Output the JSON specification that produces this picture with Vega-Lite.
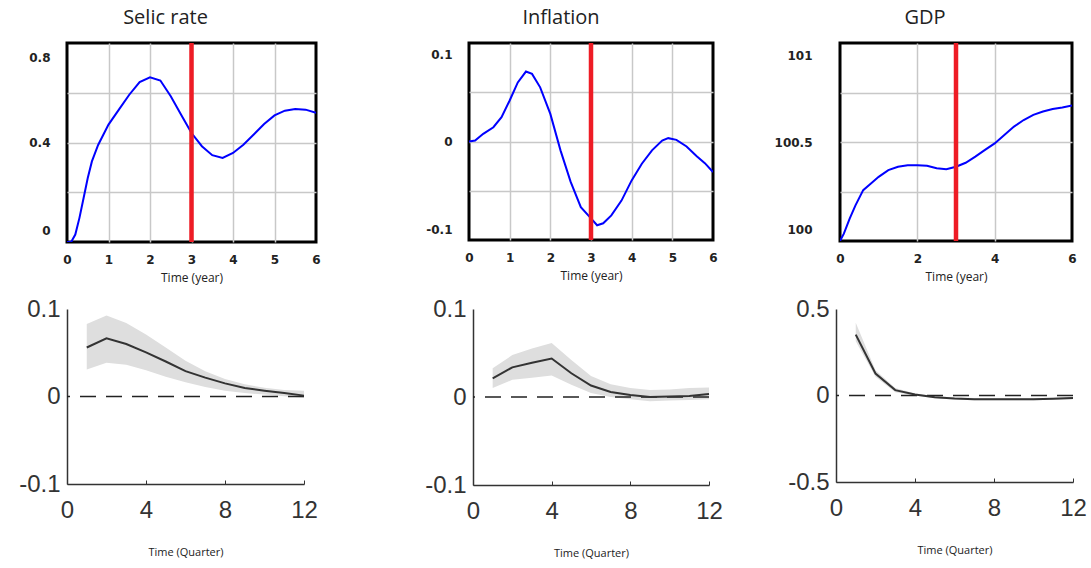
{
  "$schema": "https://vega.github.io/schema/vega-lite/v6.json",
  "padding": {"left": 18, "top": 6, "right": 5, "bottom": 5},
  "background": "white",
  "datasets": {
    "selic": [
      {"t": 0, "v": 0}, {"t": 0.1, "v": 0}, {"t": 0.2, "v": 0.03}, {"t": 0.3, "v": 0.097}, {"t": 0.4, "v": 0.177},
      {"t": 0.5, "v": 0.257}, {"t": 0.6, "v": 0.324}, {"t": 0.75, "v": 0.39}, {"t": 1.0, "v": 0.472}, {"t": 1.25, "v": 0.532},
      {"t": 1.5, "v": 0.592}, {"t": 1.75, "v": 0.643}, {"t": 2.0, "v": 0.662}, {"t": 2.25, "v": 0.649}, {"t": 2.5, "v": 0.586},
      {"t": 2.75, "v": 0.512}, {"t": 3.0, "v": 0.438}, {"t": 3.25, "v": 0.385}, {"t": 3.5, "v": 0.349}, {"t": 3.75, "v": 0.338},
      {"t": 4.0, "v": 0.358}, {"t": 4.25, "v": 0.391}, {"t": 4.5, "v": 0.432}, {"t": 4.75, "v": 0.474}, {"t": 5.0, "v": 0.509},
      {"t": 5.25, "v": 0.528}, {"t": 5.5, "v": 0.535}, {"t": 5.75, "v": 0.532}, {"t": 6.0, "v": 0.519}
    ],
    "inflation": [
      {"t": 0, "v": 0}, {"t": 0.15, "v": 0.001}, {"t": 0.35, "v": 0.0078}, {"t": 0.6, "v": 0.0145}, {"t": 0.8, "v": 0.0247},
      {"t": 1.0, "v": 0.0416}, {"t": 1.2, "v": 0.06}, {"t": 1.4, "v": 0.071}, {"t": 1.55, "v": 0.0686}, {"t": 1.75, "v": 0.055},
      {"t": 2.0, "v": 0.028}, {"t": 2.25, "v": -0.009}, {"t": 2.5, "v": -0.041}, {"t": 2.75, "v": -0.0666}, {"t": 3.0, "v": -0.078},
      {"t": 3.15, "v": -0.085}, {"t": 3.3, "v": -0.083}, {"t": 3.5, "v": -0.075}, {"t": 3.75, "v": -0.06}, {"t": 4.0, "v": -0.0395},
      {"t": 4.25, "v": -0.0226}, {"t": 4.5, "v": -0.009}, {"t": 4.75, "v": 0.001}, {"t": 4.9, "v": 0.0034}, {"t": 5.1, "v": 0.0017},
      {"t": 5.35, "v": -0.005}, {"t": 5.6, "v": -0.015}, {"t": 5.8, "v": -0.022}, {"t": 6.0, "v": -0.031}
    ],
    "gdp": [
      {"t": 0, "v": 100.0}, {"t": 0.1, "v": 100.037}, {"t": 0.25, "v": 100.113}, {"t": 0.4, "v": 100.18}, {"t": 0.6, "v": 100.257},
      {"t": 0.8, "v": 100.29}, {"t": 1.0, "v": 100.324}, {"t": 1.25, "v": 100.358}, {"t": 1.5, "v": 100.375}, {"t": 1.75, "v": 100.383},
      {"t": 2.0, "v": 100.383}, {"t": 2.25, "v": 100.38}, {"t": 2.5, "v": 100.367}, {"t": 2.75, "v": 100.363}, {"t": 3.0, "v": 100.375},
      {"t": 3.25, "v": 100.395}, {"t": 3.5, "v": 100.426}, {"t": 3.75, "v": 100.46}, {"t": 4.0, "v": 100.493}, {"t": 4.25, "v": 100.535},
      {"t": 4.5, "v": 100.578}, {"t": 4.75, "v": 100.611}, {"t": 5.0, "v": 100.637}, {"t": 5.25, "v": 100.654}, {"t": 5.5, "v": 100.667},
      {"t": 5.75, "v": 100.674}, {"t": 6.0, "v": 100.684}
    ],
    "shock": [{"t": 3}],
    "zero": [{"y": 0}],
    "irf_selic": [
      {"q": 1, "mean": 0.056, "lo": 0.031, "hi": 0.083}, {"q": 2, "mean": 0.0665, "lo": 0.0387, "hi": 0.0926},
      {"q": 3, "mean": 0.06, "lo": 0.0364, "hi": 0.084}, {"q": 4, "mean": 0.0505, "lo": 0.03, "hi": 0.071},
      {"q": 5, "mean": 0.04, "lo": 0.0227, "hi": 0.056}, {"q": 6, "mean": 0.029, "lo": 0.0164, "hi": 0.041},
      {"q": 7, "mean": 0.0216, "lo": 0.0108, "hi": 0.029}, {"q": 8, "mean": 0.015, "lo": 0.0067, "hi": 0.02},
      {"q": 9, "mean": 0.0097, "lo": 0.004, "hi": 0.014}, {"q": 10, "mean": 0.0067, "lo": 0.0022, "hi": 0.01},
      {"q": 11, "mean": 0.004, "lo": 0.0004, "hi": 0.0074}, {"q": 12, "mean": 0.001, "lo": -0.0015, "hi": 0.0067}
    ],
    "irf_inflation": [
      {"q": 1, "mean": 0.0213, "lo": 0.0101, "hi": 0.0326}, {"q": 2, "mean": 0.0337, "lo": 0.0195, "hi": 0.0476},
      {"q": 3, "mean": 0.039, "lo": 0.022, "hi": 0.055}, {"q": 4, "mean": 0.0438, "lo": 0.0243, "hi": 0.0614},
      {"q": 5, "mean": 0.027, "lo": 0.0139, "hi": 0.042}, {"q": 6, "mean": 0.013, "lo": 0.0045, "hi": 0.024},
      {"q": 7, "mean": 0.0056, "lo": 0.0, "hi": 0.0146}, {"q": 8, "mean": 0.0022, "lo": -0.0026, "hi": 0.0101},
      {"q": 9, "mean": 0.0, "lo": -0.0049, "hi": 0.0079}, {"q": 10, "mean": 0.0007, "lo": -0.0041, "hi": 0.0086},
      {"q": 11, "mean": 0.0011, "lo": -0.0034, "hi": 0.0101}, {"q": 12, "mean": 0.0034, "lo": -0.0026, "hi": 0.0109}
    ],
    "irf_gdp": [
      {"q": 1, "mean": 0.352, "lo": 0.313, "hi": 0.42}, {"q": 2, "mean": 0.127, "lo": 0.108, "hi": 0.146},
      {"q": 3, "mean": 0.031, "lo": 0.019, "hi": 0.044}, {"q": 4, "mean": 0.006, "lo": 0.0, "hi": 0.012},
      {"q": 5, "mean": -0.0096, "lo": -0.016, "hi": -0.003}, {"q": 6, "mean": -0.017, "lo": -0.023, "hi": -0.011},
      {"q": 7, "mean": -0.021, "lo": -0.027, "hi": -0.015}, {"q": 8, "mean": -0.021, "lo": -0.027, "hi": -0.015},
      {"q": 9, "mean": -0.021, "lo": -0.027, "hi": -0.015}, {"q": 10, "mean": -0.021, "lo": -0.027, "hi": -0.015},
      {"q": 11, "mean": -0.019, "lo": -0.025, "hi": -0.013}, {"q": 12, "mean": -0.015, "lo": -0.021, "hi": -0.009}
    ]
  },
  "config": {
    "view": {"stroke": null},
    "title": {"font": "Open Sans", "fontSize": 20, "fontWeight": "normal", "color": "#222222", "offset": 13, "frame": "group"},
    "axis": {"labelOverlap": false, "labelFlush": false}
  },
  "vconcat": [
    {
      "spacing": 53,
      "hconcat": [
        {
          "spacing": 102,
          "hconcat": [
            {
              "width": 249, "height": 199,
              "title": {"text": "Selic rate", "dx": -26},
              "view": {"stroke": "black", "strokeWidth": 3},
              "layer": [
                {
                  "data": {"name": "selic"},
                  "mark": {"type": "line", "color": "#0000ff", "strokeWidth": 2, "clip": true},
                  "encoding": {
                    "x": {"field": "t", "type": "quantitative", "scale": {"domain": [0, 6], "nice": false},
                      "axis": {"values": [0, 1, 2, 3, 4, 5, 6], "grid": true, "gridColor": "#c8c8c8", "gridWidth": 1.5,
                        "gridOpacity": {"condition": {"test": "datum.value < 0.01 || datum.value > 5.99", "value": 0}, "value": 1},
                        "domain": false, "ticks": false, "labelPadding": 12, "labelFont": "DejaVu Sans", "labelFontSize": 12,
                        "labelFontWeight": "bold", "labelColor": "#222222", "labelExpr": "toString(datum.value)", "labelOverlap": false,
                        "title": "Time (year)", "titleFont": "Open Sans", "titleFontSize": 12, "titleFontWeight": "normal",
                        "titleColor": "#222222", "titlePadding": 7}},
                    "y": {"field": "v", "type": "quantitative", "scale": {"domain": [0, 0.8], "nice": false, "zero": false},
                      "axis": {"values": [0, 0.2, 0.4, 0.6, 0.8], "grid": true, "gridColor": "#c8c8c8", "gridWidth": 1.5,
                        "gridOpacity": {"condition": {"test": "datum.value < 0.01 || datum.value > 0.79", "value": 0}, "value": 1},
                        "domain": false, "ticks": false, "labelPadding": 17, "labelFont": "DejaVu Sans", "labelFontSize": 12,
                        "labelFontWeight": "bold", "labelColor": "#222222", "labelOverlap": false,
                        "labelExpr": "datum.value == 0.2 || datum.value == 0.6 ? '' : toString(datum.value)",
                        "labelOffset": {"condition": [{"test": "datum.value > 0.79", "value": 14}, {"test": "datum.value < 0.01", "value": -12}], "value": 0},
                        "title": null}}
                  }
                },
                {
                  "data": {"name": "shock"},
                  "mark": {"type": "rule", "color": "#ee1c25", "strokeWidth": 4.5},
                  "encoding": {"x": {"field": "t", "type": "quantitative"}}
                }
              ]
            },
            {
              "width": 244, "height": 197,
              "title": {"text": "Inflation", "dx": -30},
              "view": {"stroke": "black", "strokeWidth": 3},
              "layer": [
                {
                  "data": {"name": "inflation"},
                  "mark": {"type": "line", "color": "#0000ff", "strokeWidth": 2, "clip": true},
                  "encoding": {
                    "x": {"field": "t", "type": "quantitative", "scale": {"domain": [0, 6], "nice": false},
                      "axis": {"values": [0, 1, 2, 3, 4, 5, 6], "grid": true, "gridColor": "#c8c8c8", "gridWidth": 1.5,
                        "gridOpacity": {"condition": {"test": "datum.value < 0.01 || datum.value > 5.99", "value": 0}, "value": 1},
                        "domain": false, "ticks": false, "labelPadding": 12, "labelFont": "DejaVu Sans", "labelFontSize": 12,
                        "labelFontWeight": "bold", "labelColor": "#222222", "labelExpr": "toString(datum.value)", "labelOverlap": false,
                        "title": "Time (year)", "titleFont": "Open Sans", "titleFontSize": 12, "titleFontWeight": "normal",
                        "titleColor": "#222222", "titlePadding": 7}},
                    "y": {"field": "v", "type": "quantitative", "scale": {"domain": [-0.1, 0.1], "nice": false, "zero": false},
                      "axis": {"values": [-0.1, -0.05, 0, 0.05, 0.1], "grid": true, "gridColor": "#c8c8c8", "gridWidth": 1.5,
                        "gridOpacity": {"condition": {"test": "datum.value < -0.099 || datum.value > 0.099", "value": 0}, "value": 1},
                        "domain": false, "ticks": false, "labelPadding": 17, "labelFont": "DejaVu Sans", "labelFontSize": 12,
                        "labelFontWeight": "bold", "labelColor": "#222222", "labelOverlap": false,
                        "labelExpr": "datum.value == 0.05 || datum.value == -0.05 ? '' : toString(datum.value)",
                        "labelOffset": {"condition": [{"test": "datum.value > 0.099", "value": 11}, {"test": "datum.value < -0.099", "value": -11}], "value": 0},
                        "title": null}}
                  }
                },
                {
                  "data": {"name": "shock"},
                  "mark": {"type": "rule", "color": "#ee1c25", "strokeWidth": 4.5},
                  "encoding": {"x": {"field": "t", "type": "quantitative"}}
                }
              ]
            }
          ]
        },
        {
          "width": 232, "height": 198,
          "title": {"text": "GDP", "dx": -31},
          "view": {"stroke": "black", "strokeWidth": 3},
          "layer": [
            {
              "data": {"name": "gdp"},
              "mark": {"type": "line", "color": "#0000ff", "strokeWidth": 2, "clip": true},
              "encoding": {
                "x": {"field": "t", "type": "quantitative", "scale": {"domain": [0, 6], "nice": false},
                  "axis": {"values": [0, 1, 2, 3, 4, 5, 6], "grid": true, "gridColor": "#c8c8c8", "gridWidth": 1.5,
                    "gridOpacity": {"condition": {"test": "datum.value < 0.01 || datum.value > 5.99", "value": 0}, "value": 1},
                    "domain": false, "ticks": false, "labelPadding": 12, "labelFont": "DejaVu Sans", "labelFontSize": 12,
                    "labelFontWeight": "bold", "labelColor": "#222222", "labelExpr": "toString(datum.value)", "labelOverlap": false,
                    "title": "Time (year)", "titleFont": "Open Sans", "titleFontSize": 12, "titleFontWeight": "normal",
                    "titleColor": "#222222", "titlePadding": 7}},
                "y": {"field": "v", "type": "quantitative", "scale": {"domain": [100, 101], "nice": false, "zero": false},
                  "axis": {"values": [100, 100.25, 100.5, 100.75, 101], "grid": true, "gridColor": "#c8c8c8", "gridWidth": 1.5,
                    "gridOpacity": {"condition": {"test": "datum.value < 100.01 || datum.value > 100.99", "value": 0}, "value": 1},
                    "domain": false, "ticks": false, "labelPadding": 28, "labelFont": "DejaVu Sans", "labelFontSize": 12,
                    "labelFontWeight": "bold", "labelColor": "#222222", "labelOverlap": false,
                    "labelExpr": "datum.value == 100.25 || datum.value == 100.75 ? '' : toString(datum.value)",
                    "labelOffset": {"condition": [{"test": "datum.value > 100.99", "value": 12}, {"test": "datum.value < 100.01", "value": -12}], "value": 0},
                    "title": null}}
              }
            },
            {
              "data": {"name": "shock"},
              "mark": {"type": "rule", "color": "#ee1c25", "strokeWidth": 4.5},
              "encoding": {"x": {"field": "t", "type": "quantitative"}}
            }
          ]
        }
      ]
    },
    {
      "spacing": 64,
      "hconcat": [
        {
          "spacing": 106,
          "hconcat": [
            {
              "width": 237, "height": 175,
              "data": {"name": "irf_selic"},
              "layer": [
                {
                  "mark": {"type": "area", "color": "#dedede", "opacity": 1},
                  "encoding": {
                    "x": {"field": "q", "type": "quantitative", "scale": {"domain": [0, 12], "nice": false},
                      "axis": {"values": [0, 4, 8, 12], "grid": false, "domain": true, "domainColor": "#333333", "domainWidth": 1.5,
                        "ticks": true, "tickColor": "#333333", "tickSize": -4, "labelPadding": 18, "labelFont": "Liberation Sans",
                        "labelFontSize": 24, "labelColor": "#333333", "title": "Time (Quarter)", "titleFont": "Open Sans",
                        "titleFontSize": 11, "titleFontWeight": "normal", "titleColor": "#222222", "titlePadding": 24}},
                    "y": {"field": "lo", "type": "quantitative", "scale": {"domain": [-0.1, 0.1], "nice": false, "zero": false},
                      "axis": {"values": [-0.1, 0, 0.1], "grid": false, "domain": true, "domainColor": "#333333", "domainWidth": 1.5,
                        "ticks": false, "labelPadding": 7, "labelFont": "Liberation Sans", "labelFontSize": 24, "labelColor": "#333333",
                        "labelExpr": "toString(datum.value)", "title": null}},
                    "y2": {"field": "hi"}
                  }
                },
                {
                  "data": {"name": "zero"},
                  "mark": {"type": "rule", "color": "#222222", "strokeWidth": 1.4, "strokeDash": [16, 10]},
                  "encoding": {"y": {"field": "y", "type": "quantitative"}}
                },
                {
                  "mark": {"type": "line", "color": "#333333", "strokeWidth": 2},
                  "encoding": {"x": {"field": "q", "type": "quantitative"}, "y": {"field": "mean", "type": "quantitative"}}
                }
              ]
            },
            {
              "width": 236, "height": 176,
              "data": {"name": "irf_inflation"},
              "layer": [
                {
                  "mark": {"type": "area", "color": "#dedede", "opacity": 1},
                  "encoding": {
                    "x": {"field": "q", "type": "quantitative", "scale": {"domain": [0, 12], "nice": false},
                      "axis": {"values": [0, 4, 8, 12], "grid": false, "domain": true, "domainColor": "#333333", "domainWidth": 1.5,
                        "ticks": true, "tickColor": "#333333", "tickSize": -4, "labelPadding": 18, "labelFont": "Liberation Sans",
                        "labelFontSize": 24, "labelColor": "#333333", "title": "Time (Quarter)", "titleFont": "Open Sans",
                        "titleFontSize": 11, "titleFontWeight": "normal", "titleColor": "#222222", "titlePadding": 24}},
                    "y": {"field": "lo", "type": "quantitative", "scale": {"domain": [-0.1, 0.1], "nice": false, "zero": false},
                      "axis": {"values": [-0.1, 0, 0.1], "grid": false, "domain": true, "domainColor": "#333333", "domainWidth": 1.5,
                        "ticks": false, "labelPadding": 7, "labelFont": "Liberation Sans", "labelFontSize": 24, "labelColor": "#333333",
                        "labelExpr": "toString(datum.value)", "title": null}},
                    "y2": {"field": "hi"}
                  }
                },
                {
                  "data": {"name": "zero"},
                  "mark": {"type": "rule", "color": "#222222", "strokeWidth": 1.4, "strokeDash": [16, 10]},
                  "encoding": {"y": {"field": "y", "type": "quantitative"}}
                },
                {
                  "mark": {"type": "line", "color": "#333333", "strokeWidth": 2},
                  "encoding": {"x": {"field": "q", "type": "quantitative"}, "y": {"field": "mean", "type": "quantitative"}}
                }
              ]
            }
          ]
        },
        {
          "width": 237, "height": 173,
          "data": {"name": "irf_gdp"},
          "layer": [
            {
              "mark": {"type": "area", "color": "#dedede", "opacity": 1},
              "encoding": {
                "x": {"field": "q", "type": "quantitative", "scale": {"domain": [0, 12], "nice": false},
                  "axis": {"values": [0, 4, 8, 12], "grid": false, "domain": true, "domainColor": "#333333", "domainWidth": 1.5,
                    "ticks": true, "tickColor": "#333333", "tickSize": -4, "labelPadding": 18, "labelFont": "Liberation Sans",
                    "labelFontSize": 24, "labelColor": "#333333", "title": "Time (Quarter)", "titleFont": "Open Sans",
                    "titleFontSize": 11, "titleFontWeight": "normal", "titleColor": "#222222", "titlePadding": 24}},
                "y": {"field": "lo", "type": "quantitative", "scale": {"domain": [-0.5, 0.5], "nice": false, "zero": false},
                  "axis": {"values": [-0.5, 0, 0.5], "grid": false, "domain": true, "domainColor": "#333333", "domainWidth": 1.5,
                    "ticks": false, "labelPadding": 7, "labelFont": "Liberation Sans", "labelFontSize": 24, "labelColor": "#333333",
                    "labelExpr": "toString(datum.value)", "title": null}},
                "y2": {"field": "hi"}
              }
            },
            {
              "data": {"name": "zero"},
              "mark": {"type": "rule", "color": "#222222", "strokeWidth": 1.4, "strokeDash": [16, 10]},
              "encoding": {"y": {"field": "y", "type": "quantitative"}}
            },
            {
              "mark": {"type": "line", "color": "#333333", "strokeWidth": 2},
              "encoding": {"x": {"field": "q", "type": "quantitative"}, "y": {"field": "mean", "type": "quantitative"}}
            }
          ]
        }
      ]
    }
  ],
  "spacing": 12
}
